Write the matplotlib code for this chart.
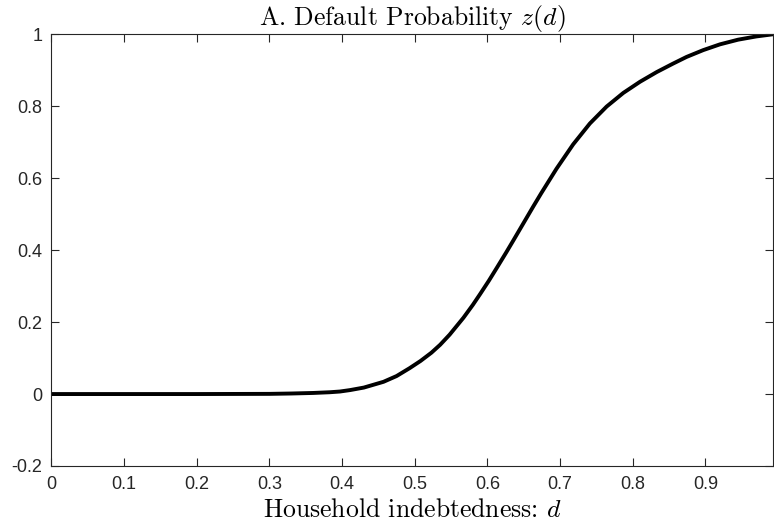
import matplotlib
matplotlib.use('Agg')
import matplotlib.pyplot as plt

# household indebtedness d and default probability z(d)
d = [0.0, 0.1, 0.2, 0.3, 0.33, 0.36, 0.383, 0.397, 0.411, 0.43, 0.457, 0.475,
     0.493, 0.508, 0.523, 0.535, 0.548, 0.567, 0.58, 0.59, 0.602, 0.613, 0.626,
     0.636, 0.645, 0.663, 0.674, 0.695, 0.718, 0.741, 0.764, 0.787, 0.81,
     0.833, 0.855, 0.874, 0.897, 0.92, 0.945, 0.97, 0.993]
z = [0.0, 0.0, 0.0, 0.0005, 0.0015, 0.003, 0.005, 0.007, 0.011, 0.018, 0.034, 0.05,
     0.072, 0.092, 0.115, 0.137, 0.165, 0.212, 0.248, 0.278, 0.315, 0.351, 0.394,
     0.428, 0.459, 0.521, 0.558, 0.626, 0.694, 0.752, 0.799, 0.837, 0.868,
     0.895, 0.918, 0.937, 0.956, 0.972, 0.985, 0.994, 1.0]

x_ticks = [0, 0.1, 0.2, 0.3, 0.4, 0.5, 0.6, 0.7, 0.8, 0.9]
x_labels = ['0', '0.1', '0.2', '0.3', '0.4', '0.5', '0.6', '0.7', '0.8', '0.9']
y_ticks = [-0.2, 0, 0.2, 0.4, 0.6, 0.8, 1]
y_labels = ['-0.2', '0', '0.2', '0.4', '0.6', '0.8', '1']

plt.rcParams['mathtext.fontset'] = 'cm'
plt.rcParams['font.family'] = ['Liberation Sans', 'DejaVu Sans']

fig = plt.figure(figsize=(7.74, 5.29), dpi=100)
ax = fig.add_axes([0.0664, 0.1191, 0.9323, 0.8161])

ax.plot(d, z, color='black', linewidth=2.8, solid_joinstyle='round')

ax.set_xlim(0, 0.993)
ax.set_ylim(-0.2, 1)
ax.set_xticks(x_ticks)
ax.set_xticklabels(x_labels)
ax.set_yticks(y_ticks)
ax.set_yticklabels(y_labels)

edge = '#262626'
for s in ax.spines.values():
    s.set_color(edge)
    s.set_linewidth(0.8)
ax.tick_params(direction='in', length=5.5, width=0.8, color=edge,
               top=True, right=True, labelsize=13, labelcolor=edge)
ax.tick_params(axis='x', pad=7)
ax.tick_params(axis='y', pad=6.5)

# LaTeX-like labels: Computer Modern text plus math italic variable
ax.set_title('A. Default Probability $z(d)$', fontsize=18.5, pad=7,
             fontfamily='cmr10')
ax.set_xlabel('Household indebtedness: $d$', fontsize=18.5, labelpad=4,
              fontfamily='cmr10')

fig.savefig('out.png', dpi=100)
